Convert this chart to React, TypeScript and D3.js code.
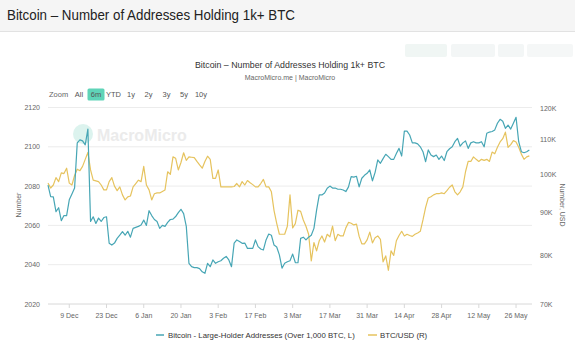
import React from "react";
import * as d3 from "d3";

const startDate = "2024-12-01";
const endDate = "2025-06-01";

// Daily values, one per day starting at startDate
const largeHolderAddresses = [
  2080.5, 2074.6, 2074.5, 2067, 2069, 2062.4, 2065, 2065, 2073, 2076,
  2079, 2102, 2103.5, 2103, 2101, 2109, 2062, 2064.4, 2061, 2063.7,
  2062, 2064, 2064.4, 2050.9, 2050, 2051, 2053.4, 2055, 2056.8, 2055,
  2057, 2054, 2058.5, 2059, 2059.5, 2060.2, 2062.7, 2060, 2067.5, 2065,
  2063, 2062, 2058.5, 2060, 2059.5, 2061.5, 2063, 2063.2, 2064.5, 2066.5,
  2068.2, 2066, 2059.5, 2040.7, 2039, 2038.5, 2038.5, 2038, 2036.4, 2035.6,
  2040.7, 2039, 2042.4, 2040.7, 2041.5, 2042, 2043.3, 2044.2, 2042.4, 2039,
  2051, 2052.6, 2051.8, 2050.9, 2051, 2048.3, 2048.3, 2048.3, 2052.6, 2049.2,
  2048, 2047.5, 2052.6, 2055.6, 2055, 2050, 2049, 2045, 2038.2, 2040.7,
  2041.5, 2042, 2045.4, 2041.1, 2041, 2053.4, 2054, 2052.6, 2054, 2055,
  2058.5, 2067.8, 2075.5, 2075.5, 2076.5, 2078.9, 2080, 2079, 2079, 2078.4,
  2078.4, 2078, 2077.2, 2079.6, 2084.8, 2084.6, 2085, 2079.6, 2084, 2085.5,
  2086.5, 2088.2, 2082.7, 2087, 2093.3, 2091.6, 2094, 2096.2, 2095, 2093.6,
  2093.6, 2096.6, 2099.2, 2095.3, 2108, 2108, 2106, 2102, 2102, 2101.5,
  2100, 2097.5, 2092.4, 2098.4, 2095.8, 2095, 2095.8, 2093.6, 2095.3, 2093,
  2097.5, 2099, 2100, 2102.6, 2104.3, 2100.3, 2102, 2103, 2099.2, 2102,
  2102.6, 2102, 2102, 2102.6, 2100, 2106.9, 2107.5, 2107.8, 2108.6, 2112,
  2114, 2113, 2109.4, 2111, 2109, 2112, 2115, 2102.6, 2097.5, 2097,
  2097.5, 2098.4,
];

const btcUsdK = [
  97.6, 96.3, 97.1, 99.1, 98, 100.4, 100.2, 101.7, 97.6, 97.1,
  99.7, 101.4, 101, 102.2, 104.2, 106.2, 101.2, 98.4, 98.2, 98,
  97.1, 95.8, 95.8, 98, 99.1, 96.8, 95.6, 96.6, 94.5, 93.2,
  94, 94.2, 96.6, 97.5, 98.4, 98, 102.2, 97.1, 95.8, 93.2,
  94.8, 95, 95, 95.4, 95.8, 100.7, 100, 104.9, 104.5, 101.2,
  103.3, 106.1, 103.9, 104.9, 104.8, 104.7, 103.6, 102.6, 101.7, 103.6,
  105.1, 104.2, 98.9, 98.9, 101.2, 96.6, 96.6, 96.6, 96.6, 96.6,
  96.7, 97.5, 96.6, 98, 97.1, 98.3, 97.7, 97.2, 96.6, 96.6,
  97.5, 98.6, 96.6, 96.6, 95.3, 90.5, 87.4, 84.8, 84.8, 84.8,
  86.7, 94.5, 86.3, 87.3, 90.6, 90.3, 88.2, 86.7, 84.8, 78.8,
  82.9, 81, 83.3, 84.4, 83, 84.8, 84.2, 86.7, 83.3, 84.8,
  84.4, 84.4, 86.3, 87.6, 87.4, 87, 87.2, 84.3, 82.6, 82.6,
  83.5, 85.3, 82.8, 84, 84.4, 83.6, 78.6, 79.9, 76.8, 81,
  80, 83.3, 84.5, 85.5, 84.4, 84.8, 84.5, 84.3, 84.8, 85.1,
  85.5, 88.2, 91.3, 93.7, 94, 94.5, 94.8, 94.8, 95, 94.8,
  95.6, 96.5, 97.1, 95.3, 94.5, 95.3, 96.6, 100.7, 103.6, 103.6,
  104.9, 104.2, 103.6, 104.2, 103.9, 104.2, 103.6, 106.3, 105.8, 107.7,
  109.3, 110.3, 112.3, 107.7, 108.5, 109.7, 109.3, 107.7, 105.7, 104.2,
  104.9, 105.2,
];

const xTickDates = [
  "2024-12-09", "2024-12-23", "2025-01-06", "2025-01-20", "2025-02-03",
  "2025-02-17", "2025-03-03", "2025-03-17", "2025-03-31", "2025-04-14",
  "2025-04-28", "2025-05-12", "2025-05-26",
];
const leftTicks = [2020, 2040, 2060, 2080, 2100, 2120];
const rightTicksK = [70, 80, 90, 100, 110, 120];
const rangeButtons = ["All", "6m", "YTD", "1y", "2y", "3y", "5y", "10y"];
const rangeButtonX = [79, 96, 113.5, 131, 148.5, 166.5, 184, 201];

const headerTitle = "Bitcoin – Number of Addresses Holding 1k+ BTC";
const chartTitle = "Bitcoin – Number of Addresses Holding 1k+ BTC";
const chartSubtitle = "MacroMicro.me | MacroMicro";
const seriesNames = ["Bitcoin - Large-Holder Addresses (Over 1,000 BTC, L)", "BTC/USD (R)"];

const W = 575;
const H = 350;
const FONT = "'Liberation Sans', Arial, Helvetica, sans-serif";
const TEAL = "#47a6b5";
const GOLD = "#e6c35e";

export default function App() {
  const parse = d3.timeParse("%Y-%m-%d");
  const t0 = parse(startDate)!;
  const t1 = parse(endDate)!;
  const x = d3.scaleTime().domain([t0, t1]).range([48, 532]);
  const yL = d3.scaleLinear().domain([2020, 2120]).range([304, 107.5]);
  const yR = d3.scaleLog().domain([70, 120]).range([304, 108]);
  const fmt = d3.timeFormat("%-d %b");

  const addrPts = largeHolderAddresses.map((v, i) => [d3.timeDay.offset(t0, i), v] as [Date, number]);
  const btcPts = btcUsdK.map((v, i) => [d3.timeDay.offset(t0, i), v] as [Date, number]);

  const lineL = d3.line<[Date, number]>().x((d) => x(d[0])).y((d) => yL(d[1]));
  const lineR = d3.line<[Date, number]>().x((d) => x(d[0])).y((d) => yR(d[1]));

  return (
    <div style={{ position: "fixed", left: 0, top: 0, width: W, height: H, background: "#fff" }}>
      <svg width={W} height={H} style={{ display: "block", fontFamily: FONT }}>
        <rect x={0} y={0} width={W} height={H} fill="#ffffff" />
        {/* header */}
        <rect x={0} y={0} width={W} height={31} fill="#f5f5f5" />
        <line x1={0} x2={W} y1={31.5} y2={31.5} stroke="#e2e2e2" />
        <text x={7} y={20} fontSize={15.5} fill="#222" textLength={288} lengthAdjust="spacingAndGlyphs">
          {headerTitle}
        </text>
        {/* faint toolbar buttons */}
        <rect x={405} y={44} width={42} height={13} fill="#f0f6f4" rx={2} />
        <rect x={451} y={44} width={44} height={13} fill="#f3f6f6" rx={2} />
        <rect x={498} y={44} width={26} height={13} fill="#f3f6f6" rx={2} />
        <rect x={527} y={44} width={46} height={13} fill="#f5f7f7" rx={2} />

        {/* chart titles */}
        <text x={290} y={68} fontSize={9.5} fill="#333" textAnchor="middle" textLength={190} lengthAdjust="spacingAndGlyphs">{chartTitle}</text>
        <text x={290} y={80} fontSize={7} fill="#666" textAnchor="middle">{chartSubtitle}</text>

        {/* range selector */}
        <text x={49} y={97} fontSize={7.5} fill="#666">Zoom</text>
        <rect x={87.5} y={88.5} width={17} height={12} fill="#5fd4b8" rx={1.5} />
        {rangeButtons.map((b, i) => (
          <text key={b} x={rangeButtonX[i]} y={97} fontSize={7.5} fill="#555" textAnchor="middle">{b}</text>
        ))}

        {/* watermark */}
        <circle cx={83} cy={134} r={10} fill="#d3f0ea" opacity={0.8} />
        <text x={97} y={141} fontSize={16} fill="#ebebeb" fontWeight="bold">MacroMicro</text>

        {/* gridlines */}
        {leftTicks.map((t) => (
          <line key={t} x1={48} x2={532} y1={yL(t)} y2={yL(t)} stroke={t === 2020 ? "#d8d8d8" : "#ececec"} strokeWidth={1} />
        ))}
        {/* x ticks */}
        {xTickDates.map((s) => {
          const d = parse(s)!;
          return (
            <g key={s}>
              <line x1={x(d)} x2={x(d)} y1={304} y2={308} stroke="#d8d8d8" />
              <text x={x(d)} y={318} fontSize={7} fill="#666" textAnchor="middle">{fmt(d)}</text>
            </g>
          );
        })}
        {/* left axis */}
        {leftTicks.map((t) => (
          <text key={t} x={40} y={yL(t) + 2.5} fontSize={7} fill="#666" textAnchor="end">{t}</text>
        ))}
        <text transform="translate(21,205) rotate(-90)" fontSize={7} fill="#666" textAnchor="middle">Number</text>
        {/* right axis */}
        {rightTicksK.map((t) => (
          <text key={t} x={540} y={yR(t) + 2.5} fontSize={7} fill="#666">{`${t}K`}</text>
        ))}
        <text transform="translate(560,205) rotate(90)" fontSize={7} fill="#666" textAnchor="middle">Number, USD</text>

        {/* series */}
        <path d={lineR(btcPts) || ""} fill="none" stroke={GOLD} strokeWidth={1.2} strokeLinejoin="round" />
        <path d={lineL(addrPts) || ""} fill="none" stroke={TEAL} strokeWidth={1.2} strokeLinejoin="round" />

        {/* legend */}
        <line x1={156} x2={164} y1={335} y2={335} stroke={TEAL} strokeWidth={1.5} />
        <text x={168} y={337.5} fontSize={7.8} fill="#333">{seriesNames[0]}</text>
        <line x1={368} x2={377} y1={335} y2={335} stroke={GOLD} strokeWidth={1.5} />
        <text x={380} y={337.5} fontSize={7.8} fill="#333">{seriesNames[1]}</text>
      </svg>
    </div>
  );
}
